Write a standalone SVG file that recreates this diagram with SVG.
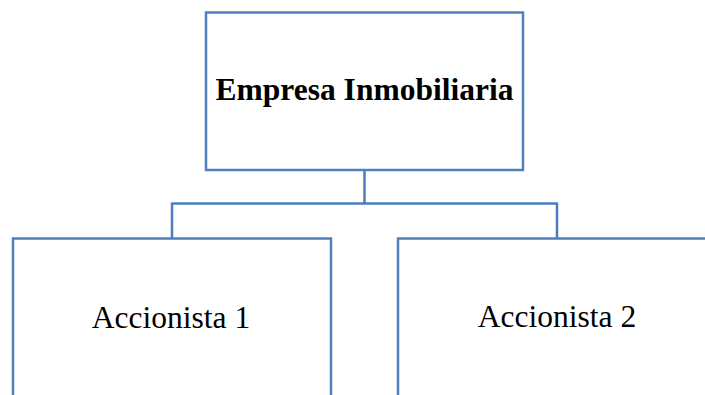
<svg xmlns="http://www.w3.org/2000/svg" width="705" height="395" viewBox="0 0 705 395">
<style>
.box{fill:#ffffff;stroke:#4F81BD;stroke-width:2.5}
.conn{fill:none;stroke:#4A7EBB;stroke-width:2.5}
.t{font-family:"Liberation Serif","Times New Roman",serif;font-size:31.5px;fill:#000;text-anchor:middle}
.b{font-weight:bold}
</style>
<rect width="705" height="395" fill="#ffffff"/>
<g id="connectors">
<path class="conn" d="M364.5 170 V203.5 M172 203.5 H557 M172 202.5 V238 M557 202.5 V238"/>
</g>
<g id="empresa">
<rect class="box" x="206" y="12.5" width="317" height="157.5"/>
<text class="t b" x="364.5" y="100">Empresa Inmobiliaria</text>
</g>
<g id="accionista1">
<rect class="box" x="13" y="238.5" width="318" height="170"/>
<text class="t" x="171" y="328">Accionista 1</text>
</g>
<g id="accionista2">
<rect class="box" x="398" y="238.5" width="320" height="170"/>
<text class="t" x="557" y="327">Accionista 2</text>
</g>
</svg>
